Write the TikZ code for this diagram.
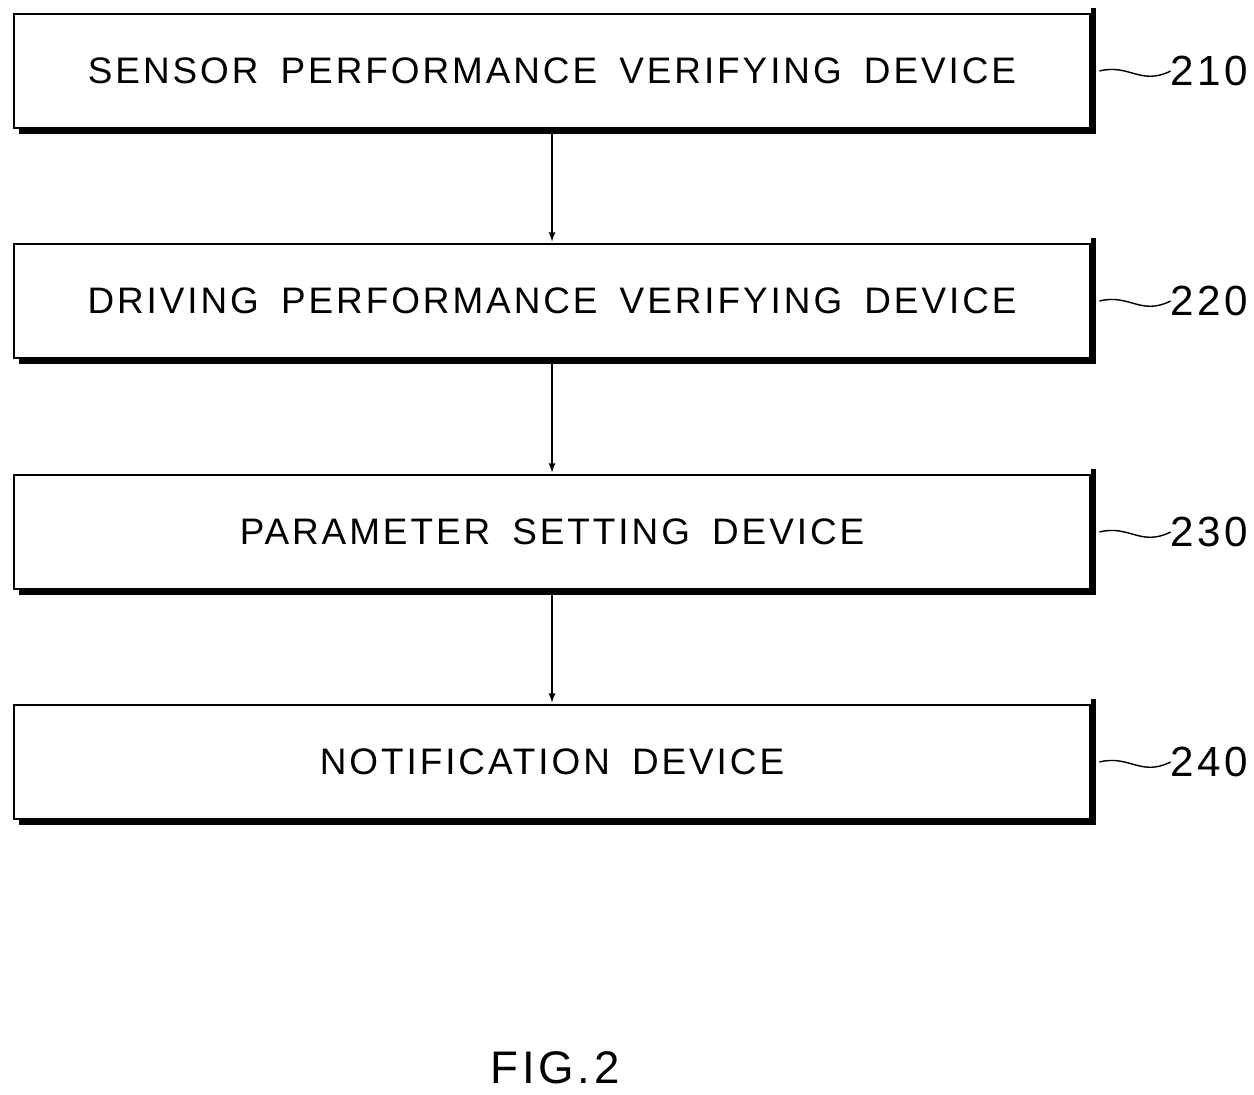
\documentclass[tikz,border=0pt]{standalone}
\usepackage{fontspec}
\setmainfont{Liberation Sans}[LetterSpace=8]
\usetikzlibrary{positioning}
\newcommand\blkfont{\fontsize{21}{26}\selectfont\spaceskip 0.6em\relax}
\tikzset{
  blk/.style={draw,line width=0.8pt,minimum width=21.52cm,minimum height=2.28cm,font=\blkfont},
  shad/.style={line width=3pt,line cap=butt},
  num/.style={anchor=west,font=\fontsize{24}{28}\selectfont,inner sep=0pt},
}
\begin{document}
\begin{tikzpicture}[x=0.02cm,y=-0.02cm]
\useasboundingbox (0,0) rectangle (1254,1095);
\node[blk] (sen) at (552,71) {SENSOR PERFORMANCE VERIFYING DEVICE};
\node[blk] (drv) at (552,301) {DRIVING PERFORMANCE VERIFYING DEVICE};
\node[blk] (par) at (552,532) {PARAMETER SETTING DEVICE};
\node[blk] (ntf) at (552,762) {NOTIFICATION DEVICE};

% shadows and reference numerals
\foreach \b/\n in {sen/210,drv/220,par/230,ntf/240}{
  \draw[shad] ([xshift=1.5pt,yshift=3pt]\b.north east) -- ([xshift=1.5pt,yshift=-1.5pt]\b.south east)
    -- ([xshift=3pt,yshift=-1.5pt]\b.south west);
  \node[num] (\b n) at ([xshift=1.6cm]\b.east) {\n};
  \draw[line width=0.8pt] ([xshift=5pt]\b.east) .. controls +(0.6cm,0.15cm) and +(-0.6cm,-0.3cm) .. (\b n.west);
}

\draw[-latex,line width=0.8pt,shorten >=1pt] ([yshift=-2pt]sen.south) -- (drv.north);
\draw[-latex,line width=0.8pt,shorten >=1pt] ([yshift=-2pt]drv.south) -- (par.north);
\draw[-latex,line width=0.8pt,shorten >=1pt] ([yshift=-2pt]par.south) -- (ntf.north);

\node[font=\fontsize{26}{30}\selectfont] (fig) at (555,1068) {FIG.2};
\end{tikzpicture}
\end{document}
